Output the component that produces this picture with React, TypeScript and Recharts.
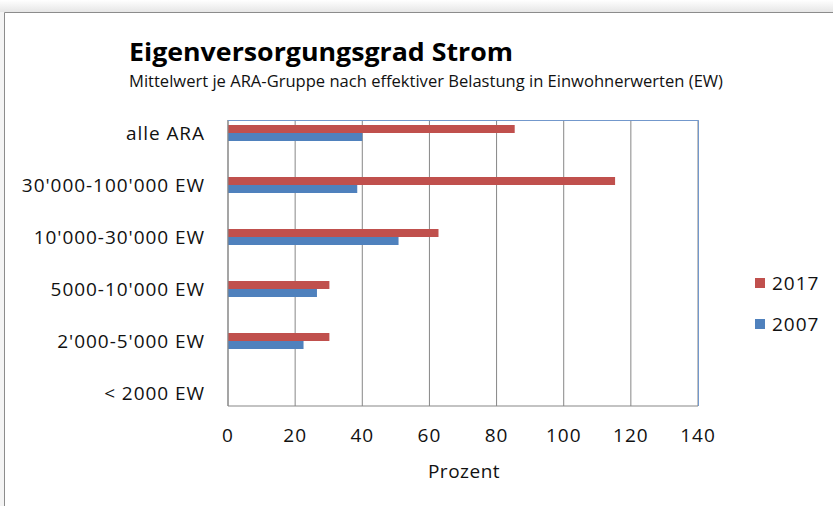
import React from 'react';
import { BarChart, Bar, XAxis, YAxis, CartesianGrid } from 'recharts';

const categories = ['alle ARA', "30'000-100'000 EW", "10'000-30'000 EW", "5000-10'000 EW", "2'000-5'000 EW", '< 2000 EW'];
const values2017: (number | null)[] = [85.4, 115.3, 62.7, 30.2, 30.2, null];
const values2007: (number | null)[] = [40.0, 38.5, 50.8, 26.5, 22.5, null];
const xTicks = [0, 20, 40, 60, 80, 100, 120, 140];
const seriesNames = ['2017', '2007'];
const seriesColors = ['#C0504D', '#4F81BD'];

const data = categories.map((c, i) => ({ category: c, s2017: values2017[i], s2007: values2007[i] }));

const FONT = '"Open Sans", sans-serif';
const GRID = '#878787';
const FRAME_BLUE = '#7398CC';

export default function App() {
  return (
    <div style={{ position: 'absolute', left: 0, top: 0, width: 833, height: 506, background: '#fff', overflow: 'hidden', fontFamily: FONT }}>
      <svg width={833} height={506} style={{ position: 'absolute', left: 0, top: 0 }}>
        <defs>
          <linearGradient id="shade" x1="0" y1="0" x2="0" y2="1">
            <stop offset="0" stopColor="#ffffff" />
            <stop offset="1" stopColor="#e6e6e6" />
          </linearGradient>
        </defs>
        <rect x={0} y={0} width={833} height={12} fill="url(#shade)" />
        <rect x={0} y={12} width={4} height={494} fill="#f4f4f4" />
      </svg>
      <div style={{ position: 'absolute', left: 0, top: 0 }}>
        <BarChart
          width={833}
          height={506}
          data={data}
          layout="vertical"
          margin={{ top: 120, right: 135, bottom: 70, left: 28 }}
          barGap={0}
          barSize={8}
        >
          <CartesianGrid horizontal={false} stroke={GRID} strokeWidth={1} />
          <XAxis
            type="number"
            domain={[0, 140]}
            ticks={xTicks}
            height={30}
            tickSize={0}
            tickMargin={23}
            axisLine={{ stroke: GRID }}
            tick={{ fill: '#111', fontSize: 19, fontFamily: FONT, letterSpacing: 1 }}
            interval={0}
          />
          <YAxis
            type="category"
            dataKey="category"
            width={200}
            tickSize={0}
            tickMargin={23}
            axisLine={{ stroke: GRID }}
            padding={{ top: -13, bottom: -13 }}
            tick={{ fill: '#111', fontSize: 19, fontFamily: FONT, letterSpacing: 0.95 }}
            interval={0}
          />
          <Bar dataKey="s2017" name={seriesNames[0]} fill={seriesColors[0]} isAnimationActive={false} />
          <Bar dataKey="s2007" name={seriesNames[1]} fill={seriesColors[1]} isAnimationActive={false} />
        </BarChart>
      </div>
      <svg width={833} height={506} style={{ position: 'absolute', left: 0, top: 0, pointerEvents: 'none' }}>
        <path d="M4.5 506 L4.5 12.5 L833 12.5" fill="none" stroke="#8c8c8c" strokeWidth={1} />
        <path d="M228 120.5 L698.5 120.5 L698.5 406" fill="none" stroke={FRAME_BLUE} strokeWidth={1} />
        <text x={129} y={61} fontFamily={FONT} fontWeight={700} fontSize={25} fill="#000" textLength={384} lengthAdjust="spacingAndGlyphs">
          Eigenversorgungsgrad Strom
        </text>
        <text x={129} y={87} fontFamily={FONT} fontSize={16} fill="#111" textLength={594} lengthAdjust="spacingAndGlyphs">
          Mittelwert je ARA-Gruppe nach effektiver Belastung in Einwohnerwerten (EW)
        </text>
        <text x={464} y={478} fontFamily={FONT} fontSize={19} fill="#111" textAnchor="middle" letterSpacing={0.5}>
          Prozent
        </text>
        {seriesNames.map((n, i) => (
          <g key={n}>
            <rect x={755} y={278 + i * 41} width={10} height={10} fill={seriesColors[i]} />
            <text x={772} y={290 + i * 41} fontFamily={FONT} fontSize={19} fill="#111" letterSpacing={1}>
              {n}
            </text>
          </g>
        ))}
      </svg>
    </div>
  );
}
